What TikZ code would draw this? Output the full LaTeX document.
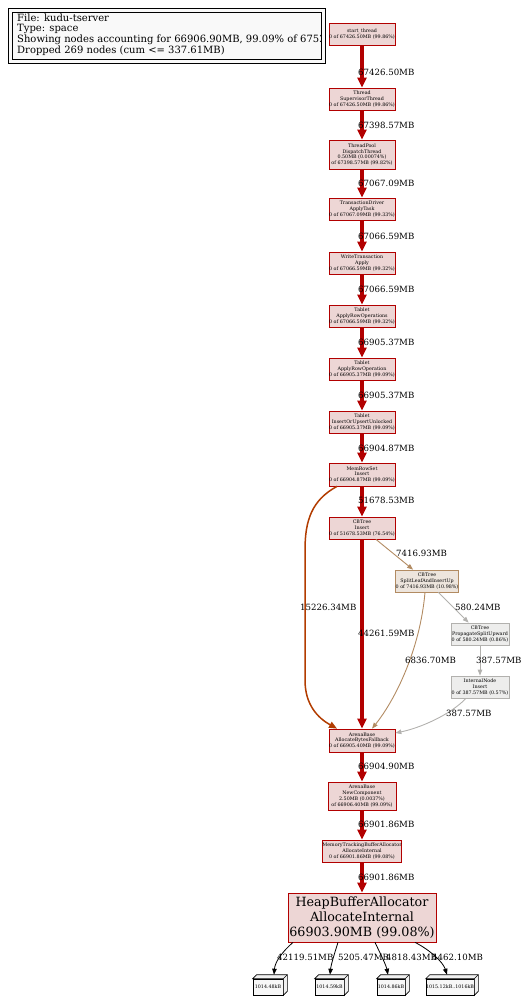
\documentclass[tikz,border=0pt]{standalone}
\usepackage{fontspec}
\setmainfont{DejaVu Serif}
\usetikzlibrary{arrows.meta}
\definecolor{hotred}{HTML}{B20000}
\definecolor{hotfill}{HTML}{EDD6D5}
\definecolor{rust}{HTML}{B23C00}
\definecolor{tanline}{HTML}{B28B62}
\definecolor{tanfill}{HTML}{EDE5DD}
\definecolor{grayline}{HTML}{B2B1AE}
\definecolor{grayfill}{HTML}{EDEDEC}
\begin{document}
\begin{tikzpicture}[x=1pt,y=-1pt,
  fn/.style={draw=hotred, fill=hotfill, line width=0.7pt, inner sep=0pt, align=center,
             font=\fontsize{4.8}{5.8}\selectfont},
  tann/.style={fn, draw=tanline, fill=tanfill},
  grayn/.style={fn, draw=grayline, fill=grayfill},
  leafn/.style={draw=black, fill=gray!6, line width=0.6pt, inner sep=0pt, align=center,
             font=\fontsize{4.8}{5.8}\selectfont},
  elab/.style={anchor=west, inner sep=0pt, font=\fontsize{8.6}{10}\selectfont},
  hot/.style={draw=hotred, line width=3.1pt, -{Triangle[length=10pt,width=9pt]}},
  medium/.style={draw=rust, line width=1.5pt, -{Triangle[length=8pt,width=6.5pt]}},
  tanedge/.style={draw=tanline, line width=0.9pt, -{Triangle[length=6pt,width=4.5pt]}},
  grayedge/.style={draw=grayline, line width=0.9pt, -{Triangle[length=6pt,width=4.5pt]}},
  blackedge/.style={draw=black, line width=0.8pt, -{Triangle[length=6pt,width=4.5pt]}}
]
\useasboundingbox (0,0) rectangle (522,998);

% legend
\draw[fill=gray!5, line width=0.8pt] (8,8) rectangle (325,63);
\draw[line width=0.8pt] (12,12) rectangle (321,59);
\begin{scope}
\clip (12,12) rectangle (321,59);
\node[anchor=north west, align=left, inner sep=0pt, font=\fontsize{10}{10.7}\selectfont] (legend) at (17,13.5)
 {File: kudu-tserver\\Type: space\\Showing nodes accounting for 66906.90MB, 99.09\% of 67522\\Dropped 269 nodes (cum <= 337.61MB)};
\end{scope}

% nodes
\node[fn, minimum width=66, minimum height=22] (n1) at (362,34) {start\_thread\\0 of 67426.50MB (99.86\%)};
\node[fn, minimum width=66, minimum height=22] (n2) at (362,99) {Thread\\SupervisorThread\\0 of 67426.50MB (99.86\%)};
\node[fn, minimum width=66, minimum height=29] (n3) at (362,154.5) {ThreadPool\\DispatchThread\\0.50MB (0.00074\%)\\of 67398.57MB (99.82\%)};
\node[fn, minimum width=66, minimum height=22] (n4) at (362,209) {TransactionDriver\\ApplyTask\\0 of 67067.09MB (99.33\%)};
\node[fn, minimum width=66, minimum height=22] (n5) at (362,263) {WriteTransaction\\Apply\\0 of 67066.59MB (99.32\%)};
\node[fn, minimum width=66, minimum height=22] (n6) at (362,316) {Tablet\\ApplyRowOperations\\0 of 67066.59MB (99.32\%)};
\node[fn, minimum width=66, minimum height=22] (n7) at (362,369) {Tablet\\ApplyRowOperation\\0 of 66905.37MB (99.09\%)};
\node[fn, minimum width=66, minimum height=22] (n8) at (362,422) {Tablet\\InsertOrUpsertUnlocked\\0 of 66905.37MB (99.09\%)};
\node[fn, minimum width=66, minimum height=23] (mem) at (362,474.5) {MemRowSet\\Insert\\0 of 66904.87MB (99.09\%)};
\node[fn, minimum width=66, minimum height=22] (cbins) at (362,528) {CBTree\\Insert\\0 of 51678.53MB (76.54\%)};
\node[tann, minimum width=62, minimum height=22] (split) at (427,581) {CBTree\\SplitLeafAndInsertUp\\0 of 7416.93MB (10.98\%)};
\node[grayn, minimum width=58, minimum height=22] (prop) at (480,634) {CBTree\\PropagateSplitUpward\\0 of 580.24MB (0.86\%)};
\node[grayn, minimum width=58, minimum height=22] (int) at (480,687) {InternalNode\\Insert\\0 of 387.57MB (0.57\%)};
\node[fn, minimum width=66, minimum height=23] (fb) at (362,740.5) {ArenaBase\\AllocateBytesFallback\\0 of 66905.40MB (99.09\%)};
\node[fn, minimum width=68, minimum height=28] (nc) at (362,796) {ArenaBase\\NewComponent\\2.50MB (0.0037\%)\\of 66906.40MB (99.09\%)};
\node[fn, minimum width=78, minimum height=22] (mtba) at (362,851) {MemoryTrackingBufferAllocator\\AllocateInternal\\0 of 66901.86MB (99.08\%)};
\node[fn, minimum width=148, minimum height=49, font=\fontsize{12.7}{15}\selectfont] (heap) at (362,917.5) {HeapBufferAllocator\\AllocateInternal\\66903.90MB (99.08\%)};

% leaves (box3d)
\node[leafn, minimum width=30, minimum height=16] (l1) at (268,987) {1014.48kB};
\node[leafn, minimum width=29, minimum height=16] (l2) at (329.5,987) {1014.59kB};
\node[leafn, minimum width=28, minimum height=16] (l3) at (391,987) {1014.86kB};
\node[leafn, minimum width=46, minimum height=16] (l4) at (450,987) {1015.12kB..1016kB};
\foreach \l in {l1,l2,l3,l4}{
  \draw[line width=0.6pt, fill=gray!12] (\l.north west) -- ++(4,-4) -- ([shift={(4,-4)}]\l.north east)
     -- ([shift={(4,-4)}]\l.south east) -- (\l.south east) -- (\l.north east) -- cycle;
  \draw[line width=0.6pt] (\l.north east) -- ++(4,-4);
}

% main chain edges
\draw[hot] (n1) -- (n2);
\draw[hot] (n2) -- (n3);
\draw[hot] (n3) -- (n4);
\draw[hot] (n4) -- (n5);
\draw[hot] (n5) -- (n6);
\draw[hot] (n6) -- (n7);
\draw[hot] (n7) -- (n8);
\draw[hot] (n8) -- (mem);
\draw[hot] (mem) -- (cbins);
\draw[hot] (cbins) -- (fb);
\draw[hot] (fb) -- (nc);
\draw[hot] (nc) -- (mtba);
\draw[hot] (mtba) -- (heap);

% side edges
\draw[medium] ([shift={(-25,0)}]mem.south) .. controls (312,500) and (305,520) .. (305,550)
   -- (305,680) .. controls (305,705) and (318,718) .. ([shift={(-25,0)}]fb.north);
\draw[tanedge] (cbins) -- (split);
\draw[tanedge] ([shift={(-2,0)}]split.south) .. controls (420,650) and (395,700) .. ([shift={(10,0)}]fb.north);
\draw[grayedge] (split) -- (prop);
\draw[grayedge] (prop) -- (int);
\draw[grayedge] ([shift={(-14,0)}]int.south) .. controls (450,715) and (420,728) .. ([shift={(0,-7.5)}]fb.east);

% leaf edges
\draw[blackedge] ([shift={(-69,0)}]heap.south) .. controls (282,952) and (275,962) .. ([shift={(6,-4)}]l1.north);
\draw[blackedge] ([shift={(-24,0)}]heap.south) .. controls (334,955) and (331,965) .. ([shift={(0.5,-4)}]l2.north);
\draw[blackedge] ([shift={(13,0)}]heap.south) .. controls (381,955) and (386,965) .. ([shift={(-3,-4)}]l3.north);
\draw[blackedge] ([shift={(53,0)}]heap.south) .. controls (430,950) and (443,962) .. ([shift={(-3,-4)}]l4.north);

% edge labels
\node[elab] (e1) at (358,72) {67426.50MB};
\node[elab] (e2) at (358,125) {67398.57MB};
\node[elab] (e3) at (358,183) {67067.09MB};
\node[elab] (e4) at (358,236) {67066.59MB};
\node[elab] (e5) at (358,289) {67066.59MB};
\node[elab] (e6) at (358,342) {66905.37MB};
\node[elab] (e7) at (358,395) {66905.37MB};
\node[elab] (e8) at (358,448) {66904.87MB};
\node[elab] (e9) at (358,500) {51678.53MB};
\node[elab] (e10) at (396,553) {7416.93MB};
\node[elab] (e11) at (300,607) {15226.34MB};
\node[elab] (e12) at (455,607) {580.24MB};
\node[elab] (e13) at (358,633) {44261.59MB};
\node[elab] (e14) at (405,660) {6836.70MB};
\node[elab] (e15) at (476,660) {387.57MB};
\node[elab] (e16) at (446,713) {387.57MB};
\node[elab] (e17) at (358,766) {66904.90MB};
\node[elab] (e18) at (358,824) {66901.86MB};
\node[elab] (e19) at (358,877) {66901.86MB};
\node[elab] (e20) at (277,957) {42119.51MB};
\node[elab] (e21) at (338,957) {5205.47MB};
\node[elab] (e22) at (386,957) {4818.43MB};
\node[elab] (e23) at (432,957) {4462.10MB};
\end{tikzpicture}
\end{document}
